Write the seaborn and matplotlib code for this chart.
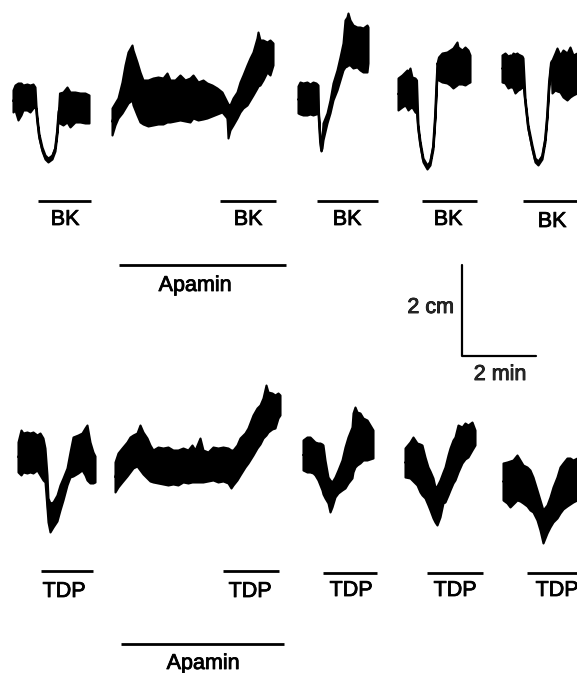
import numpy as np
import pandas as pd
import matplotlib
matplotlib.use("Agg")
import matplotlib.pyplot as plt
import matplotlib.patheffects as pe
import seaborn as sns

# ---- recorded traces: x position and upper / lower edge of the band (image units) ----
# top row: responses to BK
bk1_x = [13, 15, 18, 21, 23, 27, 30, 33, 35, 36, 37, 39, 42, 45, 48, 52, 55, 57, 58.5, 59.5, 63, 67, 70, 75, 80, 85, 89]
bk1_up = [90, 85, 83, 83, 85, 84, 85, 84, 87, 105, 117, 134, 147, 155, 158, 155, 147, 130, 110, 93, 92, 87, 92, 92, 93, 93, 95]
bk1_lo = [112, 110, 120, 115, 110, 110, 112, 108, 107, 109, 121, 138, 151, 159, 162, 159, 151, 134, 114, 123, 125, 122, 127, 122, 122, 123, 123]

bk2_x = [112, 115, 118, 122, 125, 128, 132, 133, 137, 140, 143, 148, 153, 158, 163, 167, 170, 175, 180, 185, 190, 193, 198,
         203, 207, 212, 217, 222, 227, 228, 230, 233, 237, 240, 243, 247, 250, 253, 257, 258, 260, 263, 267, 270, 273]
bk2_up = [108, 103, 98, 82, 65, 52, 45, 50, 62, 72, 80, 80, 78, 77, 78, 73, 80, 80, 75, 80, 78, 75, 82,
          80, 83, 85, 88, 92, 102, 104, 105, 98, 92, 82, 75, 65, 58, 52, 38, 32, 40, 40, 42, 40, 43]
bk2_lo = [135, 125, 118, 113, 108, 103, 100, 105, 115, 122, 124, 126, 125, 124, 124, 122, 122, 121, 120, 121, 122, 118, 120,
          119, 118, 116, 114, 112, 118, 138, 130, 125, 118, 112, 108, 105, 100, 95, 88, 86, 85, 80, 72, 75, 65]

bk3_x = [298, 300, 303, 307, 310, 313, 316, 318, 318.5, 320, 321, 322, 323, 327, 330, 333, 337, 340, 343, 345, 347, 348,
         350, 353, 357, 360, 363, 367, 368]
bk3_up = [86, 82, 83, 82, 84, 82, 83, 85, 112, 138, 147, 138, 123, 113, 100, 83, 70, 57, 43, 20, 17, 13,
          20, 25, 27, 27, 28, 25, 27]
bk3_lo = [113, 114, 115, 115, 114, 115, 114, 113, 116, 142, 151, 148, 140, 123, 113, 100, 90, 80, 70, 67, 66, 65,
          65, 68, 67, 70, 72, 72, 63]

bk4_x = [398, 402, 405, 407, 408, 410, 412, 415, 416.5, 418, 420, 423, 427, 430, 433, 435, 436.5, 437.5, 438.5, 442, 447,
         450, 453, 457, 458, 462, 465, 468, 470]
bk4_up = [78, 75, 72, 70, 72, 68, 77, 78, 80, 125, 141, 158, 165, 161, 145, 115, 81, 61, 57, 53, 52,
          50, 48, 42, 47, 50, 47, 50, 55]
bk4_lo = [110, 107, 105, 108, 110, 108, 107, 112, 113, 129, 145, 162, 169, 165, 149, 119, 85, 65, 80, 82, 83,
          85, 88, 85, 84, 84, 85, 83, 82]

bk5_x = [502, 505, 508, 510, 512, 513, 515, 517, 518, 520, 522, 523, 525, 528, 532, 535, 538, 542, 545, 547, 549, 551,
         552, 555, 557, 560, 563, 567, 570, 573, 577]
bk5_up = [55, 53, 56, 55, 55, 53, 54, 53, 54, 55, 56, 58, 98, 125, 145, 158, 161, 155, 138, 115, 81, 61,
          60, 53, 48, 55, 50, 53, 47, 55, 53]
bk5_lo = [82, 83, 88, 87, 87, 88, 93, 91, 90, 89, 87, 85, 102, 129, 149, 162, 165, 159, 142, 119, 85, 65,
          93, 90, 91, 92, 97, 100, 97, 95, 93]

# bottom row: responses to TDP
tdp1_x = [18, 21, 23, 27, 30, 33, 37, 40, 43, 45, 47, 48, 50, 53, 57, 60, 63, 67, 70, 73, 78, 82, 85, 87, 90, 93, 95]
tdp1_up = [442, 430, 433, 432, 433, 432, 435, 433, 438, 448, 475, 498, 503, 502, 495, 485, 478, 468, 452, 437, 435, 433,
           428, 425, 442, 452, 456]
tdp1_lo = [472, 475, 472, 473, 472, 473, 470, 475, 480, 482, 508, 522, 532, 527, 521, 510, 500, 485, 477, 476, 473, 470,
           475, 480, 483, 483, 482]

tdp2_x = [115, 118, 122, 127, 130, 133, 137, 140, 143, 147, 150, 153, 158, 163, 168, 173, 178, 183, 188, 192, 195, 200,
          203, 208, 213, 218, 223, 228, 231, 233, 237, 240, 245, 248, 253, 257, 260, 263, 266, 268, 272, 275, 278, 280]
tdp2_up = [462, 453, 448, 442, 437, 435, 433, 425, 432, 438, 445, 450, 447, 448, 447, 450, 450, 448, 450, 445, 450, 438,
           450, 452, 447, 448, 447, 448, 450, 450, 445, 438, 433, 428, 415, 408, 405, 398, 385, 392, 393, 395, 393, 395]
tdp2_lo = [492, 487, 482, 476, 472, 468, 466, 470, 474, 478, 481, 482, 483, 484, 485, 484, 485, 482, 483, 482, 482, 482,
           482, 481, 480, 482, 481, 483, 488, 485, 480, 475, 467, 463, 455, 448, 444, 438, 435, 432, 429, 428, 418, 415]

tdp3_x = [303, 307, 310, 313, 315, 318, 320, 322, 323, 325, 328, 330, 332, 335, 338, 342, 345, 348, 352, 353, 355, 357,
          360, 363, 367, 370, 373]
tdp3_up = [440, 437, 437, 440, 442, 443, 443, 444, 445, 460, 477, 480, 482, 477, 470, 460, 447, 437, 427, 413, 407, 412,
           413, 418, 420, 425, 430]
tdp3_lo = [470, 472, 472, 473, 475, 480, 485, 490, 494, 498, 503, 512, 507, 497, 493, 490, 488, 483, 478, 472, 467, 465,
           463, 460, 460, 459, 458]

tdp4_x = [405, 410, 413, 417, 420, 422, 425, 428, 430, 433, 435, 437, 440, 443, 445, 448, 450, 453, 455, 458, 462, 465,
          468, 472, 475]
tdp4_up = [448, 442, 437, 443, 444, 445, 457, 467, 471, 478, 487, 486, 480, 472, 467, 455, 448, 440, 437, 425, 427, 423,
           425, 422, 430]
tdp4_lo = [477, 478, 481, 485, 492, 495, 498, 505, 510, 518, 522, 525, 517, 503, 502, 495, 490, 483, 480, 472, 463, 459,
           457, 450, 445]

tdp5_x = [503, 507, 510, 513, 517, 520, 523, 527, 530, 533, 537, 540, 543, 547, 550, 553, 557, 560, 563, 567, 570, 573, 577]
tdp5_up = [463, 462, 461, 460, 455, 460, 465, 467, 470, 477, 490, 500, 510, 505, 497, 487, 477, 467, 463, 458, 458, 460, 458]
tdp5_lo = [500, 503, 507, 504, 500, 501, 503, 506, 510, 512, 520, 530, 543, 533, 527, 522, 518, 513, 509, 506, 504, 502, 500]

# ---- drug application bars and their labels ----
bar_start = [38, 220, 317, 422, 523, 41, 223, 323, 427, 527, 119, 121]
bar_end = [91, 276, 378, 477, 577, 93, 279, 377, 483, 577, 286, 284]
bar_y = [201, 201, 201, 201, 201, 571, 571, 573, 573, 573, 265, 644]
bar_label = ["BK", "BK", "BK", "BK", "BK", "TDP", "TDP", "TDP", "TDP", "TDP", "Apamin", "Apamin"]
label_x = [65, 248, 347, 448, 552, 64, 250, 351, 455, 557, 195, 203]
label_y = [225, 225, 225, 225, 227, 597, 597, 596, 596, 596, 291, 669]

traces = [
    (bk1_x, bk1_up, bk1_lo), (bk2_x, bk2_up, bk2_lo), (bk3_x, bk3_up, bk3_lo),
    (bk4_x, bk4_up, bk4_lo), (bk5_x, bk5_up, bk5_lo),
    (tdp1_x, tdp1_up, tdp1_lo), (tdp2_x, tdp2_up, tdp2_lo), (tdp3_x, tdp3_up, tdp3_lo),
    (tdp4_x, tdp4_up, tdp4_lo), (tdp5_x, tdp5_up, tdp5_lo),
]

sns.set_style("white")
plt.rcParams["font.family"] = ["Liberation Sans", "DejaVu Sans"]

fig = plt.figure(figsize=(5.77, 6.73), dpi=100)
ax = fig.add_axes([0, 0, 1, 1])

for tx, up, lo in traces:
    ax.fill_between(tx, up, lo, color="black", edgecolor="black", linewidth=1.5)
    mid = pd.DataFrame({"x": tx, "y": (np.array(up) + np.array(lo)) / 2})
    sns.lineplot(data=mid, x="x", y="y", color="black", linewidth=1.5, ax=ax,
                 estimator=None, sort=False)

# slightly heavier text, like the printed figure
heavy = [pe.withStroke(linewidth=0.6, foreground="black")]

bars = pd.DataFrame({"x0": bar_start, "x1": bar_end, "y": bar_y})
for _, b in bars.iterrows():
    ax.plot([b.x0, b.x1], [b.y, b.y], color="black", linewidth=2.0, solid_capstyle="butt")
for lab, lx, ly in zip(bar_label, label_x, label_y):
    ax.text(lx, ly, lab, ha="center", va="baseline", fontsize=15.5, color="black",
            path_effects=heavy)

# calibration: 2 cm vertical, 2 min horizontal
ax.plot([462, 462, 536], [265, 356, 356], color="black", linewidth=1.6)
ax.text(454, 313, "2 cm", ha="right", va="baseline", fontsize=15.5, path_effects=heavy)
ax.text(500, 380, "2 min", ha="center", va="baseline", fontsize=15.5, path_effects=heavy)

ax.set_xlim(0, 577)
ax.set_ylim(673, 0)
ax.axis("off")
fig.savefig("out.png", dpi=100, facecolor="white")
